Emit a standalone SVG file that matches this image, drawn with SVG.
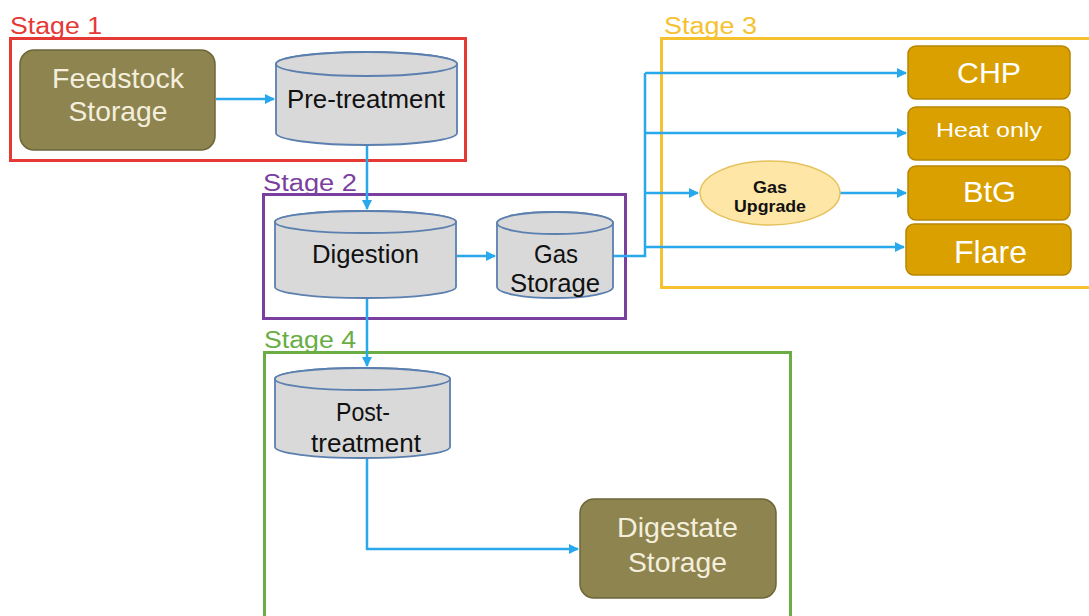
<svg xmlns="http://www.w3.org/2000/svg" width="1089" height="616" viewBox="0 0 1089 616">
  <defs>
    <marker id="arrow" viewBox="0 0 10 10" refX="9" refY="5" markerWidth="4" markerHeight="4" orient="auto" markerUnits="strokeWidth">
      <path d="M0,0 L10,5 L0,10 z" fill="#29A9EC"/>
    </marker>
  </defs>
  <style>
    text { font-family: "Liberation Sans", Arial, sans-serif; }
    .stage { fill: none; stroke-width: 3; }
    .stage-label { font-size: 23px; }
    .store { fill: #8E8450; stroke: #6E6638; stroke-width: 1.5; }
    .store-text { fill: #F4EFDC; font-size: 28px; text-anchor: middle; }
    .cyl { fill: #D9D9D9; stroke: #5B7FAE; stroke-width: 1.8; }
    .cyl-text { fill: #111; font-size: 25px; text-anchor: middle; }
    .use { fill: #D9A000; stroke: #B58600; stroke-width: 1.5; }
    .use-text { fill: #FFFFFF; text-anchor: middle; }
    .flow { fill: none; stroke: #29A9EC; stroke-width: 2.5; }
  </style>

  <rect width="1089" height="616" fill="#FFFFFF"/>

  <!-- stage frames -->
  <g id="stage1">
    <rect class="stage" x="10.5" y="38.5" width="455" height="122" stroke="#E53935"/>
    <text class="stage-label" x="10" y="34" fill="#E53935" textLength="92" lengthAdjust="spacingAndGlyphs">Stage 1</text>
  </g>
  <g id="stage2">
    <rect class="stage" x="263.5" y="194.5" width="362" height="124" stroke="#7B3FA0"/>
    <text class="stage-label" x="263" y="191" fill="#7B3FA0" textLength="94" lengthAdjust="spacingAndGlyphs">Stage 2</text>
  </g>
  <g id="stage3">
    <rect class="stage" x="661.5" y="38.5" width="440" height="249" stroke="#F6C12F"/>
    <text class="stage-label" x="664" y="34" fill="#F6C12F" textLength="93" lengthAdjust="spacingAndGlyphs">Stage 3</text>
  </g>
  <g id="stage4">
    <rect class="stage" x="264.5" y="352.5" width="526" height="280" stroke="#6AAD45"/>
    <text class="stage-label" x="264" y="348" fill="#6AAD45" textLength="92" lengthAdjust="spacingAndGlyphs">Stage 4</text>
  </g>

  <!-- connectors -->
  <g id="connectors">
    <path class="flow" d="M216,99 H274" marker-end="url(#arrow)"/>
    <path class="flow" d="M367,145 V209" marker-end="url(#arrow)"/>
    <path class="flow" d="M457,256 H495" marker-end="url(#arrow)"/>
    <path class="flow" d="M613,256 H645 V73"/>
    <path class="flow" d="M645,73 H906" marker-end="url(#arrow)"/>
    <path class="flow" d="M645,133 H906" marker-end="url(#arrow)"/>
    <path class="flow" d="M645,193 H698" marker-end="url(#arrow)"/>
    <path class="flow" d="M840,193 H906" marker-end="url(#arrow)"/>
    <path class="flow" d="M645,247 H904" marker-end="url(#arrow)"/>
    <path class="flow" d="M367,298 V366" marker-end="url(#arrow)"/>
    <path class="flow" d="M367,458 V549 H578" marker-end="url(#arrow)"/>
  </g>

  <!-- stage 1 -->
  <g id="feedstock-storage">
    <rect class="store" x="20" y="50" width="195" height="100" rx="14"/>
    <text class="store-text" x="118" y="88" textLength="132" lengthAdjust="spacingAndGlyphs">Feedstock</text>
    <text class="store-text" x="118" y="121" textLength="99" lengthAdjust="spacingAndGlyphs">Storage</text>
  </g>
  <g id="pre-treatment">
    <path class="cyl" d="M276,64 V133 A90.5,12 0 0 0 457,133 V64 A90.5,12 0 0 0 276,64 Z"/>
    <ellipse class="cyl" cx="366.5" cy="64" rx="90.5" ry="12"/>
    <text class="cyl-text" x="366" y="108" textLength="158" lengthAdjust="spacingAndGlyphs">Pre-treatment</text>
  </g>

  <!-- stage 2 -->
  <g id="digestion">
    <path class="cyl" d="M275,222 V287 A90.5,11 0 0 0 456,287 V222 A90.5,11 0 0 0 275,222 Z"/>
    <ellipse class="cyl" cx="365.5" cy="222" rx="90.5" ry="11"/>
    <text class="cyl-text" x="365.5" y="263" textLength="107" lengthAdjust="spacingAndGlyphs">Digestion</text>
  </g>
  <g id="gas-storage">
    <path class="cyl" d="M497,223 V287 A58,11 0 0 0 613,287 V223 A58,11 0 0 0 497,223 Z"/>
    <ellipse class="cyl" cx="555" cy="223" rx="58" ry="11"/>
    <text class="cyl-text" x="556" y="263" textLength="44" lengthAdjust="spacingAndGlyphs">Gas</text>
    <text class="cyl-text" x="555" y="292" textLength="90" lengthAdjust="spacingAndGlyphs">Storage</text>
  </g>

  <!-- stage 3 -->
  <g id="gas-upgrade">
    <ellipse cx="770" cy="193" rx="70" ry="32" fill="#FDE6A6" stroke="#E6C25E" stroke-width="1.5"/>
    <text x="770" y="193" font-size="17" font-weight="bold" text-anchor="middle" fill="#111" textLength="34" lengthAdjust="spacingAndGlyphs">Gas</text>
    <text x="770" y="212" font-size="17" font-weight="bold" text-anchor="middle" fill="#111" textLength="72" lengthAdjust="spacingAndGlyphs">Upgrade</text>
  </g>
  <g id="chp">
    <rect class="use" x="908" y="46" width="162" height="53" rx="8"/>
    <text class="use-text" x="989" y="83" font-size="29" textLength="64" lengthAdjust="spacingAndGlyphs">CHP</text>
  </g>
  <g id="heat-only">
    <rect class="use" x="908" y="107" width="162" height="53" rx="8"/>
    <text class="use-text" x="989" y="137" font-size="20" textLength="106" lengthAdjust="spacingAndGlyphs">Heat only</text>
  </g>
  <g id="btg">
    <rect class="use" x="908" y="166" width="162" height="54" rx="8"/>
    <text class="use-text" x="989.5" y="202" font-size="29" textLength="53" lengthAdjust="spacingAndGlyphs">BtG</text>
  </g>
  <g id="flare">
    <rect class="use" x="906" y="224" width="165" height="51" rx="8"/>
    <text class="use-text" x="990.5" y="263" font-size="32" textLength="73" lengthAdjust="spacingAndGlyphs">Flare</text>
  </g>

  <!-- stage 4 -->
  <g id="post-treatment">
    <path class="cyl" d="M275,379 V447 A87.5,11 0 0 0 450,447 V379 A87.5,11 0 0 0 275,379 Z"/>
    <ellipse class="cyl" cx="362.5" cy="379" rx="87.5" ry="11"/>
    <text class="cyl-text" x="363" y="421" textLength="54" lengthAdjust="spacingAndGlyphs">Post-</text>
    <text class="cyl-text" x="366" y="452" textLength="110" lengthAdjust="spacingAndGlyphs">treatment</text>
  </g>
  <g id="digestate-storage">
    <rect class="store" x="580" y="499" width="196" height="99" rx="14"/>
    <text class="store-text" x="677.5" y="537" textLength="121" lengthAdjust="spacingAndGlyphs">Digestate</text>
    <text class="store-text" x="677.5" y="572" textLength="99" lengthAdjust="spacingAndGlyphs">Storage</text>
  </g>
</svg>
